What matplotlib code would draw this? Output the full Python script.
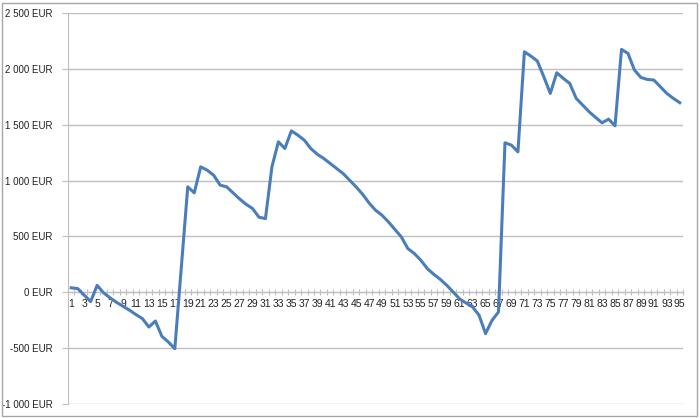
import matplotlib
matplotlib.use('Agg')
import matplotlib.pyplot as plt
import matplotlib.patches as mpatches
from matplotlib.ticker import FixedLocator, FuncFormatter
import numpy as np

plt.rcParams['font.family'] = ['Liberation Sans', 'DejaVu Sans']

# category index 1..95 and balance per step (EUR)
periods = list(range(1, 96))
balance = [
    40, 33, -25, -83, 62, -5, -50, -90, -125, -160,
    -200, -236, -311, -257, -394, -445, -505, 220, 944, 890,
    1123, 1093, 1048, 959, 944, 890, 836, 788, 750, 672,
    660, 1123, 1347, 1287, 1445, 1407, 1362, 1287, 1236, 1198,
    1153, 1108, 1063, 1003, 944, 878, 800, 735, 690, 630,
    562, 495, 391, 347, 287, 212, 161, 116, 63, 3,
    -60, -96, -131, -206, -370, -251, -176, 1338, 1317, 1257,
    2153, 2114, 2070, 1929, 1780, 1965, 1915, 1870, 1736, 1676,
    1616, 1565, 1517, 1550, 1490, 2174, 2138, 1989, 1923, 1905,
    1900, 1840, 1780, 1736, 1697,
]
y_ticks = [-1000, -500, 0, 500, 1000, 1500, 2000, 2500]
x_labels = periods[::2]

GRID = '#BFBFBF'
LINE = '#4A7EBB'

fig = plt.figure(figsize=(7.0, 4.18), dpi=100)
ax = fig.add_axes([68 / 700, 1 - 404 / 418, 615 / 700, 391 / 418])

ax.plot(periods, balance, color=LINE, linewidth=2.2, solid_joinstyle='round', zorder=3)

ax.set_xlim(0.5, 95.5)
ax.set_ylim(-1000, 2500)

ax.set_yticks(y_ticks)
ax.yaxis.set_major_formatter(FuncFormatter(
    lambda v, _: f'{int(v):,}'.replace(',', ' ') + ' EUR'))
ax.yaxis.grid(True, color=GRID, linewidth=1.0)
ax.set_axisbelow(True)

ax.xaxis.set_major_locator(FixedLocator(x_labels))
ax.xaxis.set_major_formatter(FuncFormatter(lambda v, _: f'{int(round(v))}'))
ax.xaxis.set_minor_locator(FixedLocator(np.arange(0.5, 96, 1.0)))
ax.tick_params(axis='x', which='major', length=0, pad=5, labelsize=7.5, labelcolor='#222222')
ax.tick_params(axis='x', which='minor', direction='inout', length=5,
               width=0.8, color=GRID)
ax.tick_params(axis='y', length=4, width=0.8, color=GRID, pad=7, labelsize=7,
               labelcolor='#222222')

for side in ('top', 'right'):
    ax.spines[side].set_visible(False)
ax.spines['left'].set_color(GRID)
ax.spines['bottom'].set_position(('data', 0))
ax.spines['bottom'].set_color(GRID)

# outer chart border like a spreadsheet chart area
fig.patches.append(mpatches.Rectangle((2 / 700, 2 / 418), 695 / 700, 413 / 418,
                                      transform=fig.transFigure, fill=False,
                                      edgecolor='#A6A6A6', linewidth=1.0))

fig.savefig('out.png', dpi=100)
